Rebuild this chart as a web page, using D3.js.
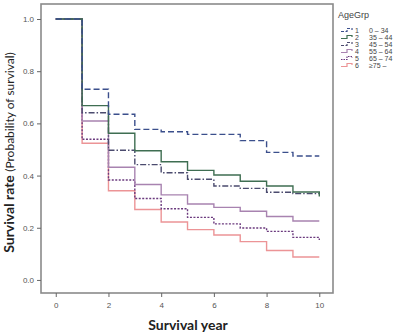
<!DOCTYPE html>
<html>
<head>
<meta charset="utf-8">
<script src="https://cdn.jsdelivr.net/npm/d3@7"></script>
<style>
  body { margin: 0; background: #fff; }
  svg { display: block; }
</style>
</head>
<body>
<svg id="chart"></svg>
<script>
// survival at the start of each year 0..10 (step-after); last value = drop at year 10
const years = [0, 1, 2, 3, 4, 5, 6, 7, 8, 9, 10];
const grp1 = [1.0, 0.731, 0.635, 0.577, 0.568, 0.558, 0.558, 0.534, 0.489, 0.475, 0.475];
const grp2 = [1.0, 0.668, 0.562, 0.495, 0.453, 0.420, 0.402, 0.378, 0.360, 0.337, 0.320];
const grp3 = [1.0, 0.641, 0.497, 0.442, 0.411, 0.386, 0.360, 0.351, 0.336, 0.331, 0.331];
const grp4 = [1.0, 0.609, 0.432, 0.366, 0.326, 0.291, 0.278, 0.263, 0.243, 0.226, 0.226];
const grp5 = [1.0, 0.539, 0.383, 0.312, 0.273, 0.240, 0.215, 0.199, 0.186, 0.163, 0.153];
const grp6 = [1.0, 0.524, 0.342, 0.270, 0.222, 0.193, 0.172, 0.147, 0.113, 0.088, 0.088];

const groupIds = ["1", "2", "3", "4", "5", "6"];
const groupLabels = ["0 – 34", "35 – 44", "45 – 54", "55 – 64", "65 – 74", "≥75 –"];
const xTicks = [0, 2, 4, 6, 8, 10];
const yTicks = [0.0, 0.2, 0.4, 0.6, 0.8, 1.0];

const series = [grp1, grp2, grp3, grp4, grp5, grp6];
const colors = ["#3b4f8c", "#3f6e52", "#4b4b6e", "#a883b0", "#6b3a7e", "#ec9496"];
const dashes = ["6,3", null, "6,2,1.5,2", null, "2,1.5", null];

const width = 404, height = 335;
const plot = { left: 41, top: 4, right: 333, bottom: 293 };

const svg = d3.select("#chart").attr("width", width).attr("height", height);

const x = d3.scaleLinear().domain([-0.56, 10.52]).range([plot.left, plot.right]);
const y = d3.scaleLinear().domain([-0.05, 1.0575]).range([plot.bottom, plot.top]);

// frame
svg.append("rect")
  .attr("x", plot.left).attr("y", plot.top)
  .attr("width", plot.right - plot.left).attr("height", plot.bottom - plot.top)
  .attr("fill", "none").attr("stroke", "#8a8a8a").attr("stroke-width", 1.6);

// axes
const yAxis = svg.append("g")
  .attr("transform", `translate(${plot.left},0)`)
  .call(d3.axisLeft(y).tickValues(yTicks).tickFormat(d3.format(".1f")).tickSize(4).tickPadding(3));
const xAxis = svg.append("g")
  .attr("transform", `translate(0,${plot.bottom})`)
  .call(d3.axisBottom(x).tickValues(xTicks).tickFormat(d3.format("d")).tickSize(4).tickPadding(5));

[xAxis, yAxis].forEach((g) => {
  g.select(".domain").remove();
  g.selectAll("line").attr("stroke", "#666");
  g.selectAll("text")
    .attr("fill", "#555")
    .style("font-family", "Liberation Sans, Arial, sans-serif")
    .style("font-size", "8px");
});

// curves
const line = d3.line()
  .x((d) => x(d[0]))
  .y((d) => y(d[1]))
  .curve(d3.curveStepAfter);

// draw from the bottom group up so the upper ones sit on top
series.map((s, i) => i).reverse().forEach((i) => {
  svg.append("path")
    .datum(years.map((t, k) => [t, series[i][k]]))
    .attr("d", line)
    .attr("fill", "none")
    .attr("stroke", colors[i])
    .attr("stroke-width", 1.4)
    .attr("stroke-dasharray", dashes[i]);
});

// axis titles
const yTitle = svg.append("text")
  .attr("transform", `translate(14,${(plot.top + plot.bottom) / 2 + 4}) rotate(-90)`)
  .attr("text-anchor", "middle")
  .style("font-family", "Lato, sans-serif")
  .attr("fill", "#222");
yTitle.append("tspan").text("Survival rate ").style("font-weight", "bold").style("font-size", "14px");
yTitle.append("tspan").text("(Probability of survival)").style("font-size", "12px");

svg.append("text")
  .attr("x", 188).attr("y", 330)
  .attr("text-anchor", "middle")
  .style("font-family", "Lato, sans-serif")
  .style("font-weight", "bold")
  .style("font-size", "14px")
  .attr("fill", "#222")
  .text("Survival year");

// legend
const legend = svg.append("g").attr("transform", "translate(338,0)");
legend.append("text")
  .attr("x", 0).attr("y", 18)
  .style("font-family", "Liberation Sans, Arial, sans-serif")
  .style("font-size", "9px")
  .attr("fill", "#444")
  .text("AgeGrp");

const rowY = d3.scalePoint().domain(groupIds).range([30, 65]);
groupIds.forEach((id, i) => {
  const g = legend.append("g").attr("transform", `translate(0,${rowY(id)})`);
  g.append("path")
    .attr("d", "M3,1.5H9V-1.5H14V0")
    .attr("fill", "none")
    .attr("stroke", colors[i])
    .attr("stroke-width", 1.2)
    .attr("stroke-dasharray", dashes[i] ? (i === 4 ? "1.5,1" : "3,1.5") : null);
  g.append("text")
    .attr("x", 17).attr("y", 2.5)
    .style("font-family", "Liberation Sans, Arial, sans-serif")
    .style("font-size", "7px")
    .attr("fill", "#444")
    .text(id);
  g.append("text")
    .attr("x", 31).attr("y", 2.5)
    .style("font-family", "Liberation Sans, Arial, sans-serif")
    .style("font-size", "7px")
    .attr("fill", "#444")
    .text(groupLabels[i]);
});
</script>
</body>
</html>
